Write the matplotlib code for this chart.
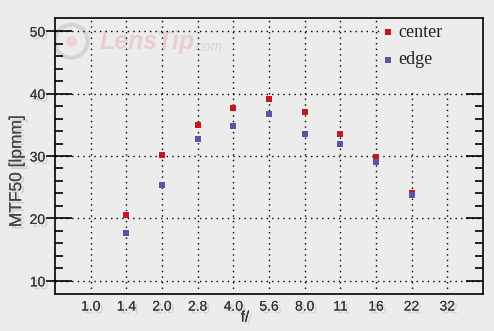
import matplotlib
matplotlib.use("Agg")
import matplotlib.pyplot as plt
import matplotlib.patheffects as pe
import matplotlib.transforms as mtransforms
from matplotlib.patches import Rectangle
import numpy as np

apertures = ["1.0", "1.4", "2.0", "2.8", "4.0", "5.6", "8.0", "11", "16", "22", "32"]
center_f = ["1.4", "2.0", "2.8", "4.0", "5.6", "8.0", "11", "16", "22"]
center = [20.6, 30.1, 34.9, 37.7, 39.2, 37.1, 33.5, 29.8, 24.1]
edge = [17.6, 25.4, 32.7, 34.8, 36.8, 33.5, 31.9, 29.0, 23.7]
yticks = [10, 20, 30, 40, 50]

bg = "#ececec"
red = "#c8161e"
blue = "#5656a8"
shadow = [pe.withSimplePatchShadow(offset=(2, -2), shadow_rgbFace="#999999", alpha=0.35), pe.Normal()]

fig = plt.figure(figsize=(4.94, 3.31), dpi=100, facecolor=bg)
ax = fig.add_axes([0.1113, 0.1118, 0.8664, 0.8338], facecolor=bg)

xpos = [apertures.index(a) for a in center_f]
ax.scatter(xpos, center, marker="s", s=22, color=red, zorder=3, linewidths=0)
ax.scatter(xpos, edge, marker="s", s=22, color=blue, zorder=3, linewidths=0)

ax.set_xlim(-1, 11)
ax.set_ylim(7.9, 52.1)
ax.set_xticks(range(len(apertures)))
ax.set_xticklabels(apertures)
ax.set_yticks(yticks)
ax.set_yticks(np.arange(12, 52, 2), minor=True)
ax.grid(True, which="major", color="black", linestyle=(0, (1, 3)), linewidth=1, zorder=1)
ax.set_axisbelow(True)

ax.tick_params(axis="x", length=0, pad=4, labelsize=10, labelcolor="#333333")
ax.tick_params(axis="y", which="major", direction="in", length=12, width=1.2,
               labelsize=10, labelcolor="#333333", pad=7, right=True)
ax.tick_params(axis="y", which="minor", direction="in", length=6, width=1.2, right=True)
for lab in ax.get_xticklabels() + ax.get_yticklabels():
    lab.set_fontfamily("Liberation Sans")
    lab.set_path_effects(shadow)
for s in ax.spines.values():
    s.set_linewidth(1.2)

# short outward stubs of the left major ticks
trans = mtransforms.blended_transform_factory(ax.transAxes, ax.transData)
for v in yticks:
    ax.plot([-0.019, 0], [v, v], color="black", lw=1.2, transform=trans, clip_on=False)

ax.set_ylabel("MTF50 [lpmm]", fontsize=12.5, color="#444444", family="Liberation Sans",
              path_effects=shadow)
ax.yaxis.set_label_coords(-0.072, 0.445)
ax.set_xlabel("f/", fontsize=11, color="#333333", family="Liberation Sans",
              path_effects=shadow, va="top")
ax.xaxis.set_label_coords(0.444, -0.06)

# watermark
ax.scatter([0.038], [0.916], s=560, marker="o", facecolors="none", edgecolors="#d8d3d3",
           linewidths=3, transform=ax.transAxes, zorder=0)
ax.scatter([0.038], [0.916], s=50, marker="o", color="#ecd6d3", transform=ax.transAxes, zorder=0)
ax.text(0.105, 0.912, "LensTip", transform=ax.transAxes, fontsize=18, fontweight="bold",
        fontstyle="italic", color="#e8cfcb", family="Liberation Sans", va="center", zorder=0)
ax.text(0.322, 0.895, ".com", transform=ax.transAxes, fontsize=10, fontstyle="italic",
        color="#d6d6d6", family="Liberation Sans", va="center", zorder=0)

# legend box and entries
ax.add_patch(Rectangle((8.1, 40.6), 2.9, 11.5, facecolor=bg, edgecolor="none", zorder=2))
ax.scatter([8.35], [49.8], marker="s", s=16, color=red, zorder=3, linewidths=0)
ax.scatter([8.35], [45.4], marker="s", s=16, color=blue, zorder=3, linewidths=0)
ax.text(8.63, 49.8, "center", fontsize=13, family="Liberation Serif", va="center",
        color="#222222", zorder=4)
ax.text(8.63, 45.4, "edge", fontsize=13, family="Liberation Serif", va="center",
        color="#222222", zorder=4)

fig.savefig("out.png", dpi=100, facecolor=bg)
